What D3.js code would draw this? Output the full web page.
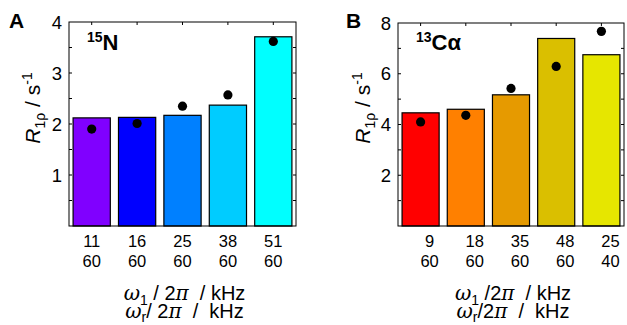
<!DOCTYPE html>
<html>
<head>
<meta charset="utf-8">
<script src="https://cdn.jsdelivr.net/npm/d3@7"></script>
<style>
  body { margin: 0; background: #fff; }
  text { font-family: "Liberation Sans", Arial, sans-serif; fill: #000; white-space: pre; }
</style>
</head>
<body>
<div id="chart"></div>
<script>
// panel A: 15N
var catsA = [["11", "60"], ["16", "60"], ["25", "60"], ["38", "60"], ["51", "60"]];
var barsA = [2.12, 2.13, 2.17, 2.37, 3.71];
var dotsA = [1.90, 2.01, 2.35, 2.57, 3.62];
var colorsA = ["#8000ff", "#0000ff", "#0080ff", "#00ccff", "#00ffff"];
var ticksA = [1, 2, 3, 4];

// panel B: 13Ca
var catsB = [["9", "60"], ["18", "60"], ["35", "60"], ["48", "60"], ["25", "40"]];
var barsB = [4.46, 4.60, 5.17, 7.39, 6.75];
var dotsB = [4.10, 4.36, 5.42, 6.29, 7.67];
var colorsB = ["#ff0000", "#ff8000", "#e69a00", "#dabf00", "#e6e600"];
var ticksB = [2, 4, 6, 8];

var svg = d3.select("#chart").append("svg")
    .attr("width", 627)
    .attr("height", 325);

function panel(opt) {
  var g = svg.append("g");
  var x = d3.scaleBand()
      .domain(d3.range(opt.bars.length))
      .range([opt.left, opt.right])
      .paddingInner(0.18)
      .paddingOuter(0.09);
  var y = d3.scaleLinear().domain([0, opt.ymax]).range([opt.bottom, opt.top]);

  // bars
  g.selectAll("rect.bar").data(opt.bars).enter().append("rect")
      .attr("class", "bar")
      .attr("x", function(d, i) { return x(i); })
      .attr("y", function(d) { return y(d); })
      .attr("width", x.bandwidth())
      .attr("height", function(d) { return y(0) - y(d); })
      .style("fill", function(d, i) { return opt.colors[i]; })
      .style("stroke", "#000")
      .style("stroke-width", 1.2);

  // dots
  g.selectAll("circle").data(opt.dots).enter().append("circle")
      .attr("cx", function(d, i) { return x(i) + x.bandwidth() / 2; })
      .attr("cy", function(d) { return y(d); })
      .attr("r", 4.6)
      .style("fill", "#000");

  // frame
  g.append("rect")
      .attr("x", opt.left).attr("y", opt.top)
      .attr("width", opt.right - opt.left).attr("height", opt.bottom - opt.top)
      .style("fill", "none").style("stroke", "#000").style("stroke-width", 1);

  // inward ticks, minor every half step
  var minor = d3.range(opt.step / 2, opt.ymax, opt.step / 2);
  var tl = 3;
  minor.forEach(function(v) {
    g.append("line").attr("x1", opt.left).attr("x2", opt.left + tl)
      .attr("y1", y(v)).attr("y2", y(v)).style("stroke", "#000");
    g.append("line").attr("x1", opt.right).attr("x2", opt.right - tl)
      .attr("y1", y(v)).attr("y2", y(v)).style("stroke", "#000");
  });
  d3.range(opt.bars.length).forEach(function(i) {
    var cx = x(i) + x.bandwidth() / 2;
    g.append("line").attr("x1", cx).attr("x2", cx)
      .attr("y1", opt.top).attr("y2", opt.top + tl).style("stroke", "#000");
  });

  // y tick labels
  g.selectAll("text.ytick").data(opt.ticks).enter().append("text")
      .attr("class", "ytick")
      .attr("x", opt.left - 7)
      .attr("y", function(d) { return y(d) + 6.5; })
      .attr("text-anchor", "end")
      .style("font-size", "18.5px")
      .text(function(d) { return d; });

  // x tick labels (two lines)
  opt.cats.forEach(function(c, i) {
    var cx = x(i) + x.bandwidth() / 2 + opt.xoff;
    g.append("text").attr("x", cx).attr("y", 247).attr("text-anchor", "middle")
      .style("font-size", "16.5px").text(c[0]);
    g.append("text").attr("x", cx).attr("y", 267).attr("text-anchor", "middle")
      .style("font-size", "16.5px").text(c[1]);
  });

  // panel letter
  g.append("text").attr("x", opt.letterX).attr("y", 28)
      .style("font-size", "21px").style("font-weight", "bold").text(opt.letter);

  // nucleus label
  var nl = g.append("text").attr("x", opt.left + 18).attr("y", 50)
      .style("font-size", "22px").style("font-weight", "bold");
  nl.append("tspan").attr("dy", -8).style("font-size", "14px").text(opt.iso);
  nl.append("tspan").attr("dy", 8).text(opt.nuc);

  // y label
  var yl = g.append("text")
      .attr("transform", "translate(" + opt.ylabX + "," + 108 + ") rotate(-90)")
      .attr("text-anchor", "middle")
      .style("font-size", "21px");
  yl.append("tspan").style("font-style", "italic").text("R");
  yl.append("tspan").attr("dy", 5).style("font-size", "14px").text("1ρ");
  yl.append("tspan").attr("dy", -5).text(" / s");
  yl.append("tspan").attr("dy", -8).style("font-size", "14px").text("-1");

  // x label, two stacked lines
  var cxl = (opt.left + opt.right) / 2 + 2;
  var l1 = g.append("text").attr("x", cxl).attr("y", 300).attr("text-anchor", "middle")
      .style("font-size", "20px");
  l1.append("tspan").style("font-family", "DejaVu Serif").style("font-style", "italic").text("ω");
  l1.append("tspan").attr("dy", 5).style("font-size", "14px").text("1");
  l1.append("tspan").attr("dy", -5).text(opt.sep1 + "2");
  l1.append("tspan").style("font-family", "DejaVu Serif").style("font-style", "italic").text("π");
  l1.append("tspan").text("  / kHz");
  var l2 = g.append("text").attr("x", cxl).attr("y", 318).attr("text-anchor", "middle")
      .style("font-size", "20px");
  l2.append("tspan").style("font-family", "DejaVu Serif").style("font-style", "italic").text("ω");
  l2.append("tspan").attr("dy", 4).style("font-size", "14px").text("r");
  l2.append("tspan").attr("dy", -4).text(opt.sep2 + "2");
  l2.append("tspan").style("font-family", "DejaVu Serif").style("font-style", "italic").text("π");
  l2.append("tspan").text("  /  kHz");
}

panel({
  letter: "A", letterX: 9, ylabX: 40,
  left: 69, right: 296, top: 22, bottom: 226, ymax: 4, step: 1,
  bars: barsA, dots: dotsA, colors: colorsA, cats: catsA, ticks: ticksA,
  iso: "15", nuc: "N", xoff: 0, sep1: " / ", sep2: "/ "
});
panel({
  letter: "B", letterX: 346, ylabX: 370,
  left: 398, right: 624, top: 23, bottom: 226, ymax: 8, step: 2,
  bars: barsB, dots: dotsB, colors: colorsB, cats: catsB, ticks: ticksB,
  iso: "13", nuc: "Cα", xoff: 9, sep1: " /", sep2: "/"
});
</script>
</body>
</html>
